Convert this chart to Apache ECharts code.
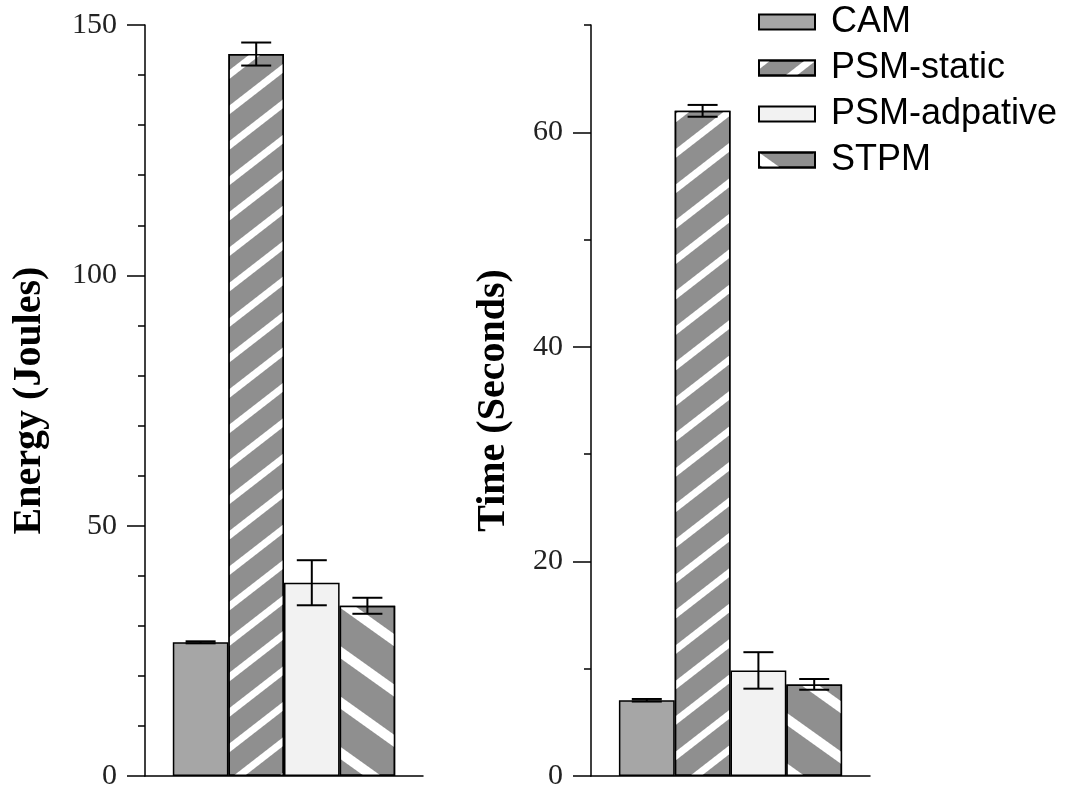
<!DOCTYPE html>
<html>
<head>
<meta charset="utf-8">
<script src="https://cdn.jsdelivr.net/npm/echarts@6/dist/echarts.min.js"></script>
<style>
  html, body { margin: 0; padding: 0; background: #fff; }
  #chart { width: 1072px; height: 791px; }
</style>
</head>
<body>
<div id="chart"></div>
<script>
// data
var methods = ['CAM', 'PSM-static', 'PSM-adpative', 'STPM']
var energy = [26.7, 144.2, 38.6, 34.0]
var energyErr = [0.2, 2.3, 4.5, 1.6]
var time = [7.06, 62.0, 9.84, 8.54]
var timeErr = [0.12, 0.55, 1.7, 0.5]
var energyTicks = [0, 50, 100, 150]
var timeTicks = [0, 20, 40, 60]

var gray = '#8f8f8f'
var fills = [
	{ color: '#a6a6a6' },
	{ color: gray, decal: { symbol: 'rect', symbolSize: 1, dashArrayX: [1, 0], dashArrayY: [7, 21], rotation: -0.66, color: '#ffffff' } },
	{ color: '#f2f2f2' },
	{ color: gray, decal: { symbol: 'rect', symbolSize: 1, dashArrayX: [1, 0], dashArrayY: [10, 31], rotation: 0.62, color: '#ffffff' } }
]

function yAxisFor(gridIndex, name, max, interval, minorSplit, gap) {
	return {
		type: 'value', gridIndex: gridIndex, position: 'left', min: 0, max: max, interval: interval / minorSplit,
		name: name, nameLocation: 'middle', nameGap: gap,
		nameTextStyle: { fontFamily: 'Liberation Serif', fontWeight: 'bold', fontSize: 40, color: '#000' },
		axisLine: { show: true, lineStyle: { color: '#000', width: 1.5 } },
		axisTick: { show: true, length: 7, lineStyle: { color: '#000', width: 1.5 } },
		axisLabel: {
			margin: 28, fontFamily: 'Liberation Serif', fontSize: 30, color: '#222',
			formatter: function (v) {
				return (gridIndex === 0 ? energyTicks : timeTicks).indexOf(v) >= 0 ? v : ''
			}
		},
		splitLine: { show: false }
	}
}

// second axis per grid, only for the longer ticks at the labelled values
function majorTicks(gridIndex, max, ticks) {
	return {
		type: 'value', gridIndex: gridIndex, position: 'left', offset: 0, min: 0, max: max,
		axisLine: { show: false },
		axisTick: { show: true, length: 18, customValues: ticks, lineStyle: { color: '#000', width: 1.5 } },
		axisLabel: { show: false }, splitLine: { show: false }
	}
}

var option = {
	animation: false,
	backgroundColor: '#fff',
	legend: {
		orient: 'vertical', left: 758, top: 4, padding: 0,
		data: methods,
		itemWidth: 56, itemHeight: 15, itemGap: 10,
		icon: 'rect',
		textStyle: { fontFamily: 'Liberation Sans', fontSize: 36, lineHeight: 36, color: '#000', padding: [0, 0, 0, 11] }
	},
	grid: [
		{ left: 145, top: 25, width: 278, height: 754 },
		{ left: 591, top: 25, width: 279, height: 754 }
	],
	xAxis: [0, 1].map(function (g) {
		return {
			type: 'category', gridIndex: g, data: [''],
			axisLine: { show: true, lineStyle: { color: '#000', width: 1.5 } },
			axisTick: { show: false }, axisLabel: { show: false }
		}
	}),
	yAxis: [
		yAxisFor(0, 'Energy (Joules)', 150, 50, 5, 95),
		yAxisFor(1, 'Time (Seconds)', 70, 20, 2, 77),
		majorTicks(0, 150, energyTicks),
		majorTicks(1, 70, timeTicks)
	],
	series: []
}

function addSet(g, vals, errs) {
	methods.forEach(function (m, i) {
		option.series.push({
			type: 'bar', name: m, xAxisIndex: g, yAxisIndex: g,
			data: [vals[i]], barGap: 0, barCategoryGap: '20%',
			itemStyle: Object.assign({ borderColor: '#000', borderWidth: 1.5 }, fills[i])
		})
	})
	methods.forEach(function (m, i) {
		option.series.push({
			type: 'custom', name: m + ' err', xAxisIndex: g, yAxisIndex: g, z: 5, clip: false,
			data: [[0, vals[i], errs[i]]],
			encode: { x: 0, y: 1 },
			renderItem: function (params, api) {
				var v = api.value(1), e = api.value(2)
				var top = api.coord([0, v + e]), bot = api.coord([0, v - e])
				var band = api.size([1, 0])[0]
				var bw = band * 0.8 / methods.length
				var cx = top[0] - band * 0.4 + bw * (i + 0.5)
				var st = { stroke: '#000', lineWidth: 2 }
				return {
					type: 'group', children: [
						{ type: 'line', shape: { x1: cx, y1: top[1], x2: cx, y2: bot[1] }, style: st },
						{ type: 'line', shape: { x1: cx - 15, y1: top[1], x2: cx + 15, y2: top[1] }, style: st },
						{ type: 'line', shape: { x1: cx - 15, y1: bot[1], x2: cx + 15, y2: bot[1] }, style: st }
					]
				}
			}
		})
	})
}
addSet(0, energy, energyErr)
addSet(1, time, timeErr)

var myChart = echarts.init(document.getElementById('chart'))
myChart.setOption(option)
</script>
</body>
</html>
